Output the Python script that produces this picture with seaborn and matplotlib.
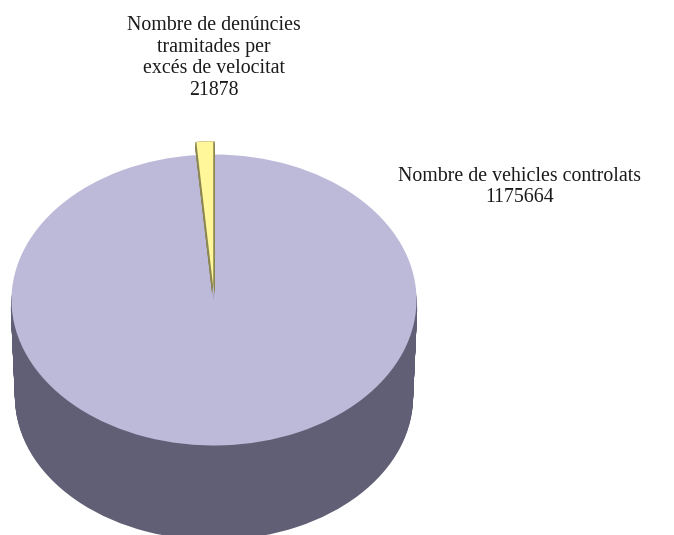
import matplotlib
matplotlib.use("Agg")
import matplotlib.pyplot as plt
import numpy as np
import seaborn as sns

# counts as printed on the chart
categories = ["Nombre de vehicles controlats", "Nombre de denúncies\ntramitades per\nexcés de velocitat"]
counts = [1175664, 21878]
# angular share as it is drawn in the picture (the slice is thinner than the counts say)
drawn_share = [98.67, 1.33]

disc_color = "#BDB9D9"
slice_color = "#FFF799"
side_color = "#615F75"
slice_side_color = "#8C8650"
none = (0, 0, 0, 0)

W, H = 674, 535
CX, CY, RX, RY = 214, 300, 202.5, 145.5
START = 90 + drawn_share[1] * 3.6
EXPLODE = [0, 0.09]


def draw_pie(ax, colors, radius=1, dx=0, dy=0, explode=None):
    ax.pie(drawn_share, startangle=START, radius=radius, center=(dx / RX, -dy / RY),
           colors=colors, explode=explode, wedgeprops={"linewidth": 0})


def main():
    sns.set_theme(style="white")
    plt.rcParams["font.family"] = ["Liberation Serif", "DejaVu Serif"]

    fig = plt.figure(figsize=(W / 100, H / 100), dpi=100)
    ax = fig.add_axes([0, 0, 1, 1])

    # body of the cake, stacked dark discs
    steps = 90
    for off, r in zip(np.linspace(9, 97, steps), np.linspace(1.003, 0.983, steps)):
        draw_pie(ax, [side_color, side_color], radius=r, dy=off)

    # top face
    draw_pie(ax, [disc_color, disc_color])

    # olive edge of the pulled out slice, then the slice
    for off in np.linspace(0, 8, 9):
        for shift in (-1, 1.5):
            draw_pie(ax, [none, slice_side_color], dx=shift, dy=off, explode=EXPLODE)
    draw_pie(ax, [none, slice_color], explode=EXPLODE)

    # pie forces equal aspect, the squashed look needs pixel limits instead
    ax.set_aspect("auto")
    ax.set_xlim(-CX / RX, (W - CX) / RX)
    ax.set_ylim((CY - H) / RY, CY / RY)
    ax.axis("off")

    fig.text(214 / W, 1 - 58 / H, f"{categories[1]}\n{counts[1]}", ha="center", va="center",
             fontsize=14.3, color="#1a1a1a", linespacing=1.18)
    fig.text(520 / W, 1 - 187 / H, f"{categories[0]}\n{counts[0]}", ha="center", va="center",
             fontsize=14.3, color="#1a1a1a", linespacing=1.18)

    fig.savefig("out.png", dpi=100)
    plt.close(fig)


if __name__ == "__main__":
    main()
